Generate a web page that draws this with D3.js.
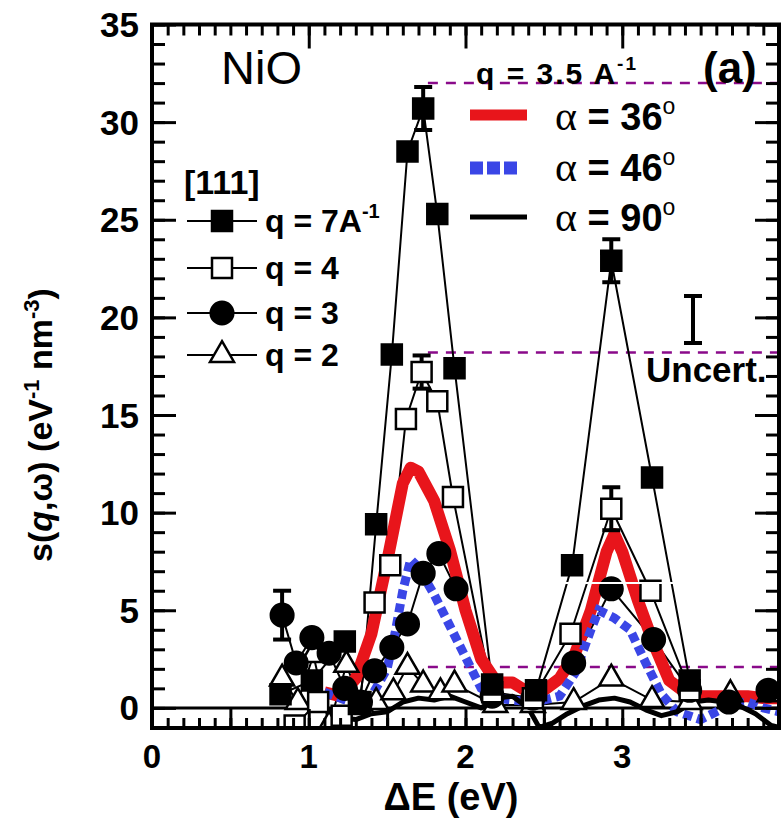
<!DOCTYPE html>
<html><head><meta charset="utf-8">
<script src="https://cdn.jsdelivr.net/npm/d3@7"></script>
<style>body{margin:0;background:#fff}svg{display:block}</style>
</head><body>
<svg id="c" width="782" height="819"></svg>
<script>
// ---- data ----
const xTicks = [0, 1, 2, 3];
const yTicks = [0, 5, 10, 15, 20, 25, 30, 35];

const q7E = [0.82, 1.02, 1.23, 1.33, 1.43, 1.53, 1.63, 1.73, 1.82, 1.93, 2.17, 2.45, 2.68, 2.93, 3.19, 3.43];
const q7S = [0.7, 1.4, 3.4, 0.3, 9.4, 18.1, 28.5, 30.7, 25.3, 17.4, 1.2, 0.9, 7.3, 22.9, 11.8, 1.4];

const q4E = [0.91, 1.06, 1.21, 1.32, 1.42, 1.52, 1.62, 1.72, 1.82, 1.92, 2.17, 2.43, 2.67, 2.93, 3.18, 3.43];
const q4S = [-0.9, 0.3, -0.4, 0.2, 5.4, 7.3, 14.8, 17.2, 15.7, 10.8, 0.8, 0.5, 3.8, 10.2, 6.0, 0.9];

const q3E = [0.83, 0.92, 1.02, 1.13, 1.23, 1.33, 1.42, 1.53, 1.63, 1.73, 1.83, 1.94, 2.17, 2.43, 2.69, 2.93, 3.2, 3.43, 3.68, 3.93];
const q3S = [4.75, 2.3, 3.6, 2.8, 1.0, 0.3, 1.9, 3.1, 4.3, 6.9, 7.9, 6.1, 0.6, 0.5, 2.3, 6.1, 3.5, 0.9, 0.3, 0.9];

const q2E = [0.83, 0.93, 1.03, 1.13, 1.24, 1.34, 1.43, 1.54, 1.63, 1.73, 1.84, 1.93, 2.19, 2.43, 2.69, 2.93, 3.19, 3.43, 3.69, 3.94];
const q2S = [1.5, 0.3, 2.7, -0.9, 2.2, 0.05, 0.3, 0.8, 2.1, 1.2, 0.8, 1.2, 0.15, 0.15, 0.3, 1.5, 0.4, 0.3, 0.7, 0.7];

// error bars: [energy, value, half-width]
const errBars = [[1.73, 30.7, 1.1], [2.93, 22.9, 1.1], [1.72, 17.2, 0.85], [2.93, 10.2, 1.1], [0.83, 4.75, 1.25]];

const a36E = [1.1, 1.2, 1.3, 1.4, 1.5, 1.6, 1.65, 1.7, 1.8, 1.9, 2.0, 2.1, 2.2, 2.3, 2.4, 2.5, 2.6, 2.7, 2.8, 2.9, 2.95, 3.0, 3.1, 3.2, 3.3, 3.4, 3.5, 3.6, 3.7, 3.8, 3.9, 4.0];
const a36S = [0.8, 0.6, 1.5, 3.8, 7.5, 11.5, 12.3, 12.1, 10.6, 8.1, 5.0, 2.5, 1.3, 1.3, 0.8, 0.9, 1.5, 2.8, 5.0, 8.0, 8.9, 8.0, 5.5, 3.3, 1.4, 0.8, 0.6, 0.6, 0.6, 0.6, 0.5, 0.5];

const a46E = [1.1, 1.2, 1.3, 1.4, 1.5, 1.55, 1.6, 1.65, 1.7, 1.8, 1.9, 2.0, 2.1, 2.2, 2.3, 2.45, 2.55, 2.6, 2.7, 2.8, 2.85, 2.95, 3.05, 3.15, 3.25, 3.35, 3.5, 3.6, 3.7, 3.8, 3.9, 4.0];
const a46S = [0.8, 0.5, 0.2, 0.6, 2.0, 3.8, 6.0, 7.6, 7.2, 5.8, 4.2, 2.6, 1.0, 0.5, 0.4, 0.3, 0.5, 0.6, 1.8, 4.0, 5.0, 4.6, 4.0, 2.3, 0.7, -0.2, -0.6, -0.2, 0.2, 0.3, 0.0, -0.2];

const a90E = [1.1, 1.2, 1.3, 1.4, 1.5, 1.6, 1.7, 1.8, 1.9, 2.0, 2.1, 2.2, 2.3, 2.4, 2.47, 2.55, 2.65, 2.75, 2.85, 2.95, 3.05, 3.15, 3.25, 3.35, 3.45, 3.55, 3.65, 3.75, 3.85, 3.95, 4.0];
const a90S = [0.0, -0.5, -0.6, -0.3, -0.2, 0.3, 0.5, 0.4, 0.6, 0.3, 0.0, 0.5, 0.6, 0.0, -1.0, -0.8, -0.3, 0.1, 0.4, 0.5, 0.3, -0.1, -0.4, -0.2, 0.3, 0.4, 0.3, 0.1, -0.3, -0.9, -1.0];

const guideLevels = [32.0, 18.2, 2.1];
const guideStart = 1.76;

const legendQ = ["q = 7A", "q = 4", "q = 3", "q = 2"];
const legendAlpha = ["36", "46", "90"];

// ---- scales ----
const svg = d3.select("#c");
const x = d3.scaleLinear().domain([0, 4]).range([152, 779]);
const y = d3.scaleLinear().domain([-1.03, 35]).range([728, 24.5]);
const font = "'Liberation Sans', Arial, Helvetica, sans-serif";
const serif = "'Liberation Serif', 'DejaVu Serif', serif";

const plot = svg.append("g");
svg.append("clipPath").attr("id", "clipP").append("rect")
  .attr("x", x(0)).attr("y", y(35)).attr("width", x(4) - x(0)).attr("height", y(-1.03) - y(35));
const g = plot.append("g").attr("clip-path", "url(#clipP)");

// zero line
g.append("line").attr("x1", x(0)).attr("x2", x(4)).attr("y1", y(0)).attr("y2", y(0))
  .attr("stroke", "#000").attr("stroke-width", 3);

function styleAxis(sel) {
  sel.select(".domain").remove();
  sel.selectAll("line").attr("stroke", "#000").attr("stroke-width", 3);
  sel.selectAll("text").remove();
}
const minorX = d3.range(0, 4.001, 0.1).map(v => +v.toFixed(2));
const minorY = d3.range(0, 35.001, 1);
// bottom (ticks up)
plot.append("g").attr("transform", `translate(0,${y(-1.03)})`)
  .call(d3.axisTop(x).tickValues(minorX).tickSize(10)).call(styleAxis);
plot.append("g").attr("transform", `translate(0,${y(-1.03)})`)
  .call(d3.axisTop(x).tickValues([0.5, 1, 1.5, 2, 2.5, 3, 3.5]).tickSize(19)).call(styleAxis);
// top (ticks down)
plot.append("g").attr("transform", `translate(0,${y(35)})`)
  .call(d3.axisBottom(x).tickValues(minorX).tickSize(11)).call(styleAxis);
plot.append("g").attr("transform", `translate(0,${y(35)})`)
  .call(d3.axisBottom(x).tickValues([1, 2, 3]).tickSize(24)).call(styleAxis);
// left (ticks right)
plot.append("g").attr("transform", `translate(${x(0)},0)`)
  .call(d3.axisRight(y).tickValues(minorY).tickSize(13)).call(styleAxis);
plot.append("g").attr("transform", `translate(${x(0)},0)`)
  .call(d3.axisRight(y).tickValues(yTicks).tickSize(24)).call(styleAxis);
// right (ticks left)
plot.append("g").attr("transform", `translate(${x(4)},0)`)
  .call(d3.axisLeft(y).tickValues(minorY).tickSize(13)).call(styleAxis);
plot.append("g").attr("transform", `translate(${x(4)},0)`)
  .call(d3.axisLeft(y).tickValues(yTicks).tickSize(24)).call(styleAxis);

// frame
plot.append("rect").attr("x", x(0)).attr("y", y(35)).attr("width", x(4) - x(0)).attr("height", y(-1.03) - y(35))
  .attr("fill", "none").attr("stroke", "#000").attr("stroke-width", 4);

// tick labels
svg.append("g").selectAll("text").data(yTicks).join("text")
  .attr("x", 139).attr("y", d => y(d)).attr("dy", "0.36em").attr("text-anchor", "end")
  .attr("font-family", font).attr("font-weight", "bold").attr("font-size", 35).text(d => d);
svg.append("g").selectAll("text").data(xTicks).join("text")
  .attr("x", d => x(d)).attr("y", 756).attr("dy", "0.36em").attr("text-anchor", "middle")
  .attr("font-family", font).attr("font-weight", "bold").attr("font-size", 33).text(d => d);

// axis titles
const yl = svg.append("text").attr("transform", "translate(52,425) rotate(-90)").attr("text-anchor", "middle")
  .attr("font-family", font).attr("font-weight", "bold").attr("font-size", 34);
yl.append("tspan").text("s(");
yl.append("tspan").attr("font-style", "italic").text("q");
yl.append("tspan").text(",ω)  (eV");
yl.append("tspan").attr("font-size", 22).attr("dy", -13).text("-1");
yl.append("tspan").attr("dy", 13).text(" nm");
yl.append("tspan").attr("font-size", 22).attr("dy", -13).text("-3");
yl.append("tspan").attr("dy", 13).text(")");
svg.append("text").attr("x", 451).attr("y", 810).attr("text-anchor", "middle")
  .attr("font-family", font).attr("font-weight", "bold").attr("font-size", 38).text("ΔE (eV)");

// guides (dashed purple)
g.append("g").selectAll("line").data(guideLevels).join("line")
  .attr("x1", x(guideStart)).attr("x2", x(4)).attr("y1", d => y(d)).attr("y2", d => y(d))
  .attr("stroke", "#8a0a8a").attr("stroke-width", 2.5).attr("stroke-dasharray", "10,8");

// series lines
const pts = (E, S) => E.map((e, i) => [e, S[i]]);
const line = d3.line().x(d => x(d[0])).y(d => y(d[1]));
[[q7E, q7S], [q4E, q4S], [q3E, q3S], [q2E, q2S]].forEach(([E, S]) => {
  g.append("path").attr("d", line(pts(E, S))).attr("fill", "none").attr("stroke", "#000").attr("stroke-width", 2);
});

// alpha curves
g.append("path").attr("d", line(pts(a36E, a36S))).attr("fill", "none").attr("stroke", "#e8151b")
  .attr("stroke-width", 12).attr("stroke-linejoin", "round");
g.append("path").attr("d", line(pts(a46E, a46S))).attr("fill", "none").attr("stroke", "#3a46e6")
  .attr("stroke-width", 9).attr("stroke-dasharray", "9,5");
g.append("path").attr("d", line(pts(a90E, a90S))).attr("fill", "none").attr("stroke", "#000")
  .attr("stroke-width", 5).attr("stroke-linejoin", "round");

// error bars
const eb = g.append("g").attr("stroke", "#000").attr("stroke-width", 4);
errBars.forEach(([e, v, h]) => {
  eb.append("line").attr("x1", x(e)).attr("x2", x(e)).attr("y1", y(v - h)).attr("y2", y(v + h));
  eb.append("line").attr("x1", x(e) - 9).attr("x2", x(e) + 9).attr("y1", y(v - h)).attr("y2", y(v - h));
  eb.append("line").attr("x1", x(e) - 9).attr("x2", x(e) + 9).attr("y1", y(v + h)).attr("y2", y(v + h));
});

// markers
const symSq = d3.symbol().type(d3.symbolSquare).size(400)();
const symCi = d3.symbol().type(d3.symbolCircle).size(400)();
const symTr = d3.symbol().type(d3.symbolTriangle).size(250)();
function markers(E, S, path, fill) {
  g.append("g").selectAll("path").data(pts(E, S)).join("path")
    .attr("d", path).attr("transform", d => `translate(${x(d[0])},${y(d[1])})`)
    .attr("fill", fill).attr("stroke", "#000").attr("stroke-width", 2.5);
}
markers(q2E, q2S, symTr, "#fff");
markers(q3E, q3S, symCi, "#000");
markers(q4E, q4S, symSq, "#fff");
markers(q7E, q7S, symSq, "#000");

// white scan artifact line
g.append("line").attr("x1", 563).attr("x2", 782).attr("y1", y(6.4)).attr("y2", y(6.4))
  .attr("stroke", "#fff").attr("stroke-width", 2);

// text labels
const T = (xx, yy, s, size, weight) => svg.append("text").attr("x", xx).attr("y", yy)
  .attr("font-family", font).attr("font-size", size).attr("font-weight", weight || "normal").text(s);
T(221, 84, "NiO", 47);
T(184, 194, "[111]", 34, "bold");

// left legend
const legSyms = [[symSq, "#000"], [symSq, "#fff"], [symCi, "#000"], [symTr, "#fff"]];
const legY = [221, 268, 313, 355];
legendQ.forEach((s, i) => {
  svg.append("line").attr("x1", 187).attr("x2", 257).attr("y1", legY[i]).attr("y2", legY[i])
    .attr("stroke", "#000").attr("stroke-width", 2);
  svg.append("path").attr("d", legSyms[i][0]).attr("transform", `translate(222,${legY[i]})`)
    .attr("fill", legSyms[i][1]).attr("stroke", "#000").attr("stroke-width", 2.5);
  const t = svg.append("text").attr("x", 265).attr("y", legY[i] + 11).attr("font-family", font)
    .attr("font-size", 32).attr("font-weight", "bold");
  t.append("tspan").text(s);
  if (i === 0) t.append("tspan").attr("font-size", 20).attr("dy", -14).text("-1");
});

// right legend
const qt = svg.append("text").attr("x", 476).attr("y", 84).attr("font-family", font)
  .attr("font-size", 30).attr("font-weight", "bold").attr("letter-spacing", 2);
qt.append("tspan").text("q = 3.5 A");
qt.append("tspan").attr("font-size", 19).attr("dy", -14).text("-1");
T(703, 83, "(a)", 44, "bold");

svg.append("line").attr("x1", 470).attr("x2", 527).attr("y1", 115).attr("y2", 115)
  .attr("stroke", "#e8151b").attr("stroke-width", 11);
svg.append("line").attr("x1", 470).attr("x2", 520).attr("y1", 168).attr("y2", 168)
  .attr("stroke", "#3a46e6").attr("stroke-width", 13).attr("stroke-dasharray", "13,4");
svg.append("line").attr("x1", 470).attr("x2", 527).attr("y1", 217).attr("y2", 217)
  .attr("stroke", "#000").attr("stroke-width", 5);
const aY = [130, 181, 231];
legendAlpha.forEach((a, i) => {
  const t = svg.append("text").attr("x", 555).attr("y", aY[i]).attr("font-family", font).attr("font-size", 38);
  t.append("tspan").attr("font-family", serif).attr("font-size", 42).text("α");
  t.append("tspan").attr("font-weight", "bold").text(" = " + a);
  t.append("tspan").attr("font-size", 23).attr("dy", -16).text("o");
});

// uncertainty marker
const ux = 693;
svg.append("g").attr("stroke", "#000").attr("stroke-width", 4).call(s => {
  s.append("line").attr("x1", ux).attr("x2", ux).attr("y1", 296).attr("y2", 343);
  s.append("line").attr("x1", ux - 9).attr("x2", ux + 9).attr("y1", 296).attr("y2", 296);
  s.append("line").attr("x1", ux - 9).attr("x2", ux + 9).attr("y1", 343).attr("y2", 343);
});
T(646, 382, "Uncert.", 35, "bold");
</script>
</body></html>
